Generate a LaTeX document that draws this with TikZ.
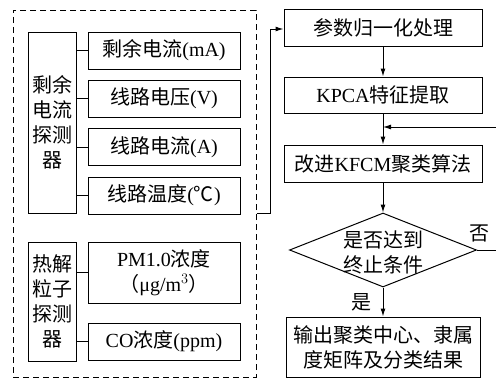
\documentclass[tikz,border=0pt]{standalone}
\usepackage{fontspec}
\setmainfont{Liberation Serif}
\newfontfamily\cjk{Noto Sans CJK SC}
\usetikzlibrary{shapes.geometric,arrows.meta}
\newcommand\zh[1]{{\cjk #1}}
\begin{document}
\begin{tikzpicture}[x=1pt,y=-1pt,
  txt/.style={font=\fontsize{20}{25}\selectfont},
  box/.style={txt,draw,line width=1pt,inner sep=0pt,align=center},
  conn/.style={line width=1pt},
  arr/.style={line width=1pt,-{Latex[length=8pt,width=5pt]}},
  frame/.style={draw,line width=1pt,dash pattern=on 6pt off 4pt,inner sep=0pt}]
\useasboundingbox (0,0) rectangle (496,380);
% dashed frame
\node[frame,minimum width=243pt,minimum height=367pt] (fr) at (134.5,193.5) {};
% detector 1
\node[box,minimum width=48pt,minimum height=181pt] (d1) at (52,122.5) {\zh{剩余}\\\zh{电流}\\\zh{探测}\\\zh{器}};
\node[box,minimum width=152pt,minimum height=37pt] (r1) at (164,50.5) {\zh{剩余电流}(mA)};
\node[box,minimum width=152pt,minimum height=37pt] (r2) at (164,98.5) {\zh{线路电压}(V)};
\node[box,minimum width=152pt,minimum height=37pt] (r3) at (164,147) {\zh{线路电流}(A)};
\node[box,minimum width=152pt,minimum height=37pt] (r4) at (164,195.5) {\zh{线路温度}(\zh{℃})};
% detector 2
\node[box,minimum width=48pt,minimum height=119pt] (d2) at (52,301.5) {\zh{热解}\\\zh{粒子}\\\zh{探测}\\\zh{器}};
\node[box,minimum width=152pt,minimum height=61pt] (p1) at (164,272.5) {PM1.0\zh{浓度}\\\zh{（}μg/m$^{3}$\zh{）}};
\node[box,minimum width=152pt,minimum height=37pt] (p2) at (164,341.5) {CO\zh{浓度}(ppm)};
\foreach \r in {r1,r2,r3,r4} \draw[conn] (d1.east |- \r.west) -- (\r.west);
\foreach \r in {p1,p2} \draw[conn] (d2.east |- \r.west) -- (\r.west);
% right flow
\node[box,minimum width=198pt,minimum height=37pt] (a1) at (383,27.5) {\zh{参数归一化处理}};
\node[box,minimum width=198pt,minimum height=36pt] (a2) at (383,95) {KPCA\zh{特征提取}};
\node[box,minimum width=198pt,minimum height=37pt] (a3) at (383,163.5) {\zh{改进}KFCM\zh{聚类算法}};
\node[draw,line width=1pt,diamond,minimum width=187pt,minimum height=74pt,inner sep=0pt] (dm) at (383,250) {};
\node[txt,align=center,inner sep=0pt] (dmt) at (383,252) {\zh{是否达到}\\\zh{终止条件}};
\node[box,minimum width=194pt,minimum height=60pt] (out) at (383,347) {\zh{输出聚类中心、隶属}\\\zh{度矩阵及分类结果}};
\draw[arr] (a1) -- (a2);
\draw[arr] (a2) -- (a3);
\draw[arr] (a3) -- (dm);
\draw[arr] (dm) -- (out);
\node[txt,inner sep=0pt] (yes) at (361,302) {\zh{是}};
\node[txt,inner sep=0pt] (no) at (479,233) {\zh{否}};
% feedback
\coordinate (fbr) at (497,127);
\coordinate (fbm) at (383,127);
\draw[arr] (dm.east) -- (dm.east -| fbr) -- (fbr) -- (fbm);
% input
\coordinate (inc) at (270,213);
\draw[arr] (fr.east |- inc) -- (inc) |- (a1.west |- 0,29);
\end{tikzpicture}
\end{document}
